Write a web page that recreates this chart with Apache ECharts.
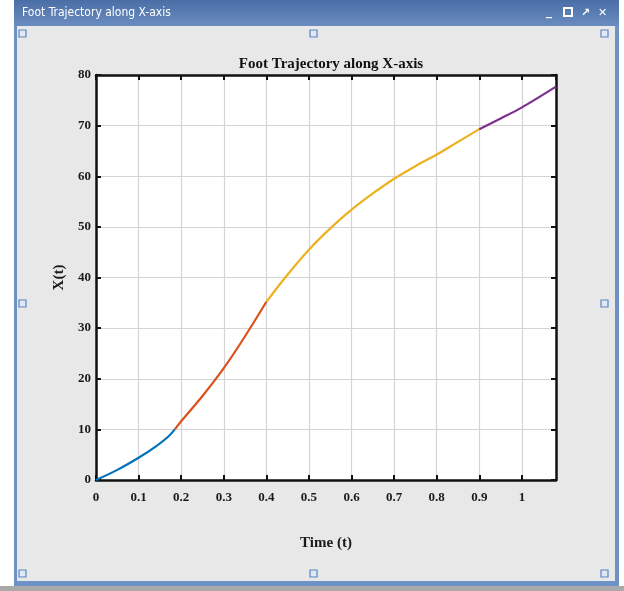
<!DOCTYPE html>
<html>
<head>
<meta charset="utf-8">
<title>Foot Trajectory along X-axis</title>
<script src="https://cdn.jsdelivr.net/npm/echarts@6/dist/echarts.min.js"></script>
<style>
  html, body { margin: 0; padding: 0; background: #ffffff; }
  #main { width: 624px; height: 591px; }
</style>
</head>
<body>
<div id="main"></div>
<script>
  // 각 구간별 시간(t)과 X(t) 값
  var tBlue = [0, 0.05, 0.1, 0.14, 0.17, 0.185];
  var xBlue = [0, 2.0, 4.4, 6.6, 8.6, 10];

  var tOrange = [0.185, 0.2, 0.25, 0.3, 0.35, 0.4];
  var xOrange = [10, 11.6, 16.6, 22.1, 28.4, 35.2];

  var tYellow = [0.4, 0.45, 0.5, 0.55, 0.6, 0.65, 0.7, 0.75, 0.8, 0.85, 0.9];
  var xYellow = [35.2, 40.6, 45.5, 49.7, 53.4, 56.6, 59.5, 62, 64.3, 66.8, 69.3];

  var tPurple = [0.9, 0.95, 1.0, 1.08];
  var xPurple = [69.3, 71.4, 73.6, 77.7];

  var xTicks = [0, 0.1, 0.2, 0.3, 0.4, 0.5, 0.6, 0.7, 0.8, 0.9, 1];
  var yTicks = [0, 10, 20, 30, 40, 50, 60, 70, 80];

  function pairs(ts, xs) {
    var out = [];
    for (var i = 0; i < ts.length; i++) {
      out.push([ts[i], xs[i]]);
    }
    return out;
  }

  var serif = 'Liberation Serif';
  var tickFont = { color: '#1a1a1a', fontFamily: serif, fontWeight: 'bold', fontSize: 13 };

  function seg(name, color, ts, xs) {
    return {
      name: name,
      type: 'line',
      xAxisIndex: 0,
      yAxisIndex: 0,
      smooth: 0.35,
      showSymbol: false,
      lineStyle: { color: color, width: 2.2 },
      data: pairs(ts, xs)
    };
  }

  // 창 틀 (MATLAB figure window 모양)
  var handles = [[22, 33], [313, 33], [604, 33], [22, 303], [604, 303], [22, 573], [313, 573], [604, 573]];
  var chrome = [
    { type: 'rect', shape: { x: 0, y: 586, width: 624, height: 5 }, style: { fill: '#a9a9a9' }, z: -10 },
    { type: 'rect', shape: { x: 14, y: 0, width: 605, height: 586 },
      style: { fill: '#6f92c6' }, z: -10 },
    { type: 'rect', shape: { x: 14, y: 0, width: 605, height: 26 },
      style: { fill: new echarts.graphic.LinearGradient(0, 0, 0, 1, [
        { offset: 0, color: '#4a6ea6' }, { offset: 1, color: '#6a8cc0' }]) }, z: -9 },
    { type: 'rect', shape: { x: 17, y: 26, width: 598, height: 555 },
      style: { fill: '#e8e8e8' }, z: -8 },
    { type: 'text', x: 22, y: 13, style: { text: 'Foot Trajectory along X-axis', fill: '#ffffff',
      font: '12px "DejaVu Sans Condensed", "Liberation Sans Narrow", sans-serif', verticalAlign: 'middle' }, z: -7 },
    { type: 'text', x: 546, y: 12, style: { text: '_', fill: '#ffffff', font: 'bold 12px "DejaVu Sans"', verticalAlign: 'middle' }, z: -7 },
    { type: 'rect', shape: { x: 564, y: 8, width: 8, height: 8 }, style: { fill: 'none', stroke: '#ffffff', lineWidth: 2 }, z: -7 },
    { type: 'text', x: 581, y: 13, style: { text: '↗', fill: '#ffffff', font: 'bold 11px "DejaVu Sans"', verticalAlign: 'middle' }, z: -7 },
    { type: 'text', x: 598, y: 13, style: { text: '✕', fill: '#ffffff', font: 'bold 11px "DejaVu Sans"', verticalAlign: 'middle' }, z: -7 }
  ];
  handles.forEach(function (h) {
    chrome.push({ type: 'rect', shape: { x: h[0] - 3, y: h[1] - 3, width: 7, height: 7 },
      style: { fill: '#dfe8f4', stroke: '#5b86c0', lineWidth: 1.2 }, z: -6 });
  });

  function hideExtra(v) {
    return xTicks.some(function (t) { return Math.abs(t - v) < 1e-6; }) ? String(+v.toFixed(1)) : '';
  }

  var option = {
    animation: false,
    backgroundColor: 'transparent',
    graphic: chrome,
    title: {
      text: 'Foot Trajectory along X-axis',
      left: 326,
      top: 52,
      textAlign: 'center',
      textStyle: { fontFamily: serif, fontWeight: 'bold', fontSize: 15, color: '#111' }
    },
    grid: {
      left: 96, top: 75, right: 68, bottom: 111,
      show: true, backgroundColor: '#ffffff', borderWidth: 0
    },
    xAxis: [
      {
        type: 'value', min: 0, max: 1.08, interval: 0.1,
        name: 'Time (t)', nameLocation: 'middle', nameGap: 56,
        nameTextStyle: { fontFamily: serif, fontWeight: 'bold', fontSize: 15, color: '#1a1a1a' },
        axisLine: { onZero: false, lineStyle: { color: '#111', width: 2.5 } },
        axisTick: { inside: true, length: 5, lineStyle: { color: '#111', width: 2 } },
        axisLabel: Object.assign({ margin: 11, formatter: hideExtra, showMaxLabel: false }, tickFont),
        splitLine: { show: true, lineStyle: { color: '#d4d4d4', width: 1.2 } }
      },
      {
        type: 'value', position: 'top', min: 0, max: 1.08, interval: 0.1,
        axisLine: { onZero: false, lineStyle: { color: '#111', width: 2.5 } },
        axisTick: { inside: true, length: 5, lineStyle: { color: '#111', width: 2 } },
        axisLabel: { show: false },
        splitLine: { show: false }
      }
    ],
    yAxis: [
      {
        type: 'value', min: 0, max: 80, interval: 10,
        name: 'X(t)', nameLocation: 'middle', nameGap: 26,
        nameTextStyle: { fontFamily: serif, fontWeight: 'bold', fontSize: 15, color: '#1a1a1a' },
        axisLine: { show: true, onZero: false, lineStyle: { color: '#111', width: 2.5 } },
        axisTick: { show: true, inside: true, length: 5, lineStyle: { color: '#111', width: 2 } },
        axisLabel: Object.assign({ margin: 5 }, tickFont),
        splitLine: { show: true, lineStyle: { color: '#d4d4d4', width: 1.2 } }
      },
      {
        type: 'value', position: 'right', min: 0, max: 80, interval: 10,
        axisLine: { show: true, onZero: false, lineStyle: { color: '#111', width: 2.5 } },
        axisTick: { show: true, inside: true, length: 5, lineStyle: { color: '#111', width: 2 } },
        axisLabel: { show: false },
        splitLine: { show: false }
      }
    ],
    series: [
      seg('seg1', '#0072BD', tBlue, xBlue),
      seg('seg2', '#D95319', tOrange, xOrange),
      seg('seg3', '#EDB120', tYellow, xYellow),
      seg('seg4', '#7E2F8E', tPurple, xPurple)
    ]
  };

  var myChart = echarts.init(document.getElementById('main'));
  myChart.setOption(option);
</script>
</body>
</html>
